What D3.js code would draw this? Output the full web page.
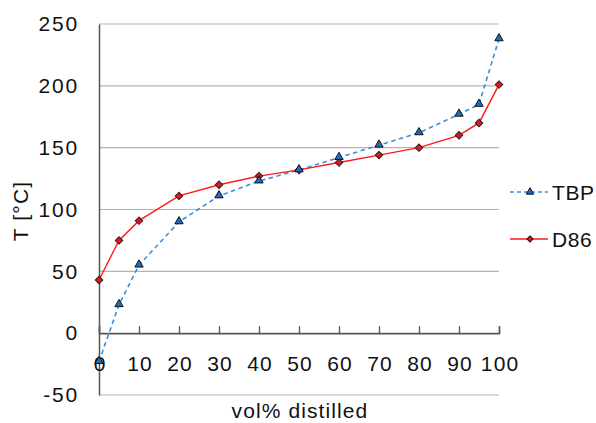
<!DOCTYPE html>
<html>
<head>
<meta charset="utf-8">
<script src="https://cdn.jsdelivr.net/npm/d3@7"></script>
<style>
  html, body { margin: 0; padding: 0; background: #fff; }
  text { font-family: "Liberation Sans", Arial, Helvetica, sans-serif; }
</style>
</head>
<body>
<svg id="chart" width="596" height="423"></svg>
<script>
// Distillation curves: temperature vs. volume percent distilled
const volPct = [0, 5, 10, 20, 30, 40, 50, 60, 70, 80, 90, 95, 100];
const tbp    = [-23, 23, 55, 90, 111, 123, 132, 142, 152, 162, 177, 185, 238];
const d86    = [43, 75, 91, 111, 120, 127, 132, 138, 144, 150, 160, 170, 201];
const yTicks = [-50, 0, 50, 100, 150, 200, 250];
const xTicks = [0, 10, 20, 30, 40, 50, 60, 70, 80, 90, 100];

const svg = d3.select("#chart");
const plotL = 99, plotR = 499, plotT = 24, plotB = 395;
const fontSize = 21;
const ink = "#111";

const x = d3.scaleLinear().domain([0, 100]).range([plotL, plotR]);
const y = d3.scaleLinear().domain([-50, 250]).range([plotB, plotT]);

// horizontal gridlines
svg.append("g").selectAll("line").data(yTicks).join("line")
  .attr("x1", plotL).attr("x2", plotR)
  .attr("y1", d => y(d)).attr("y2", d => y(d))
  .attr("stroke", "#b5b5b5").attr("stroke-width", 1.2);

// y axis (plain hyphen for negative numbers)
const yAxis = svg.append("g").attr("transform", `translate(${plotL},0)`)
  .call(d3.axisLeft(y).tickValues(yTicks).tickSize(0).tickPadding(20)
    .tickFormat(d => String(d)));
yAxis.select(".domain").attr("stroke", "#555").attr("stroke-width", 1.5);
yAxis.selectAll("text").attr("font-size", fontSize).attr("fill", ink)
  .attr("letter-spacing", 1.8)
  .attr("font-family", "'Liberation Sans', Arial, sans-serif");

// x axis at T = 0, ticks pointing up
const xAxis = svg.append("g").attr("transform", `translate(0,${y(0)})`)
  .call(d3.axisTop(x).tickValues(xTicks).tickSize(7).tickFormat(d => String(d)));
xAxis.select(".domain").attr("stroke", "#555").attr("stroke-width", 1.5);
xAxis.selectAll(".tick line").attr("stroke", "#555").attr("stroke-width", 1.3);
xAxis.selectAll("text").attr("font-size", fontSize).attr("fill", ink)
  .attr("y", 37.5).attr("x", 0.6).attr("letter-spacing", 1.2)
  .attr("font-family", "'Liberation Sans', Arial, sans-serif");

// axis titles
svg.append("text")
  .attr("transform", `translate(28,211) rotate(-90)`)
  .attr("text-anchor", "middle").attr("font-size", fontSize).attr("fill", ink)
  .attr("letter-spacing", 1.2)
  .text("T [°C]");
svg.append("text")
  .attr("x", 300).attr("y", 417.5)
  .attr("text-anchor", "middle").attr("font-size", fontSize).attr("fill", ink)
  .attr("letter-spacing", 1.1)
  .text("vol% distilled");

const line = d3.line().x(d => x(d[0])).y(d => y(d[1]));
const tbpPts = volPct.map((v, i) => [v, tbp[i]]);
const d86Pts = volPct.map((v, i) => [v, d86[i]]);

// TBP series
svg.append("path").datum(tbpPts).attr("d", line)
  .attr("fill", "none").attr("stroke", "#3b8ede").attr("stroke-width", 1.6)
  .attr("stroke-dasharray", "4.5,3.5");

// D86 series
svg.append("path").datum(d86Pts).attr("d", line)
  .attr("fill", "none").attr("stroke", "#ff1a1a").attr("stroke-width", 1.4);

const tri = d3.symbol().type(d3.symbolTriangle).size(30);
const sq = d3.symbol().type(d3.symbolSquare).size(28);

svg.append("g").selectAll("path").data(d86Pts).join("path")
  .attr("d", sq).attr("transform", d => `translate(${x(d[0])},${y(d[1])}) rotate(45)`)
  .attr("fill", "#e8141b").attr("stroke", "#222").attr("stroke-width", 1);

svg.append("g").selectAll("path").data(tbpPts).join("path")
  .attr("d", tri).attr("transform", d => `translate(${x(d[0])},${y(d[1]) - 0.5})`)
  .attr("fill", "#1a6fc0").attr("stroke", "#111").attr("stroke-width", 1);

// legend
const legend = [
  { name: "TBP", color: "#3b8ede", dash: "4,3", type: d3.symbolTriangle, size: 24, rot: 0, fill: "#1a6fc0", y: 192 },
  { name: "D86", color: "#ff1a1a", dash: null, type: d3.symbolSquare, size: 18, rot: 45, fill: "#e8141b", y: 239 }
];
const lg = svg.append("g").selectAll("g").data(legend).join("g")
  .attr("transform", d => `translate(0,${d.y})`);
lg.append("line").attr("x1", 510).attr("x2", 548).attr("y1", 0).attr("y2", 0)
  .attr("stroke", d => d.color).attr("stroke-width", 1.4)
  .attr("stroke-dasharray", d => d.dash);
lg.append("path").attr("d", d => d3.symbol().type(d.type).size(d.size)())
  .attr("transform", d => `translate(530,0) rotate(${d.rot})`)
  .attr("fill", d => d.fill).attr("stroke", "#111").attr("stroke-width", 1);
lg.append("text").attr("x", 552).attr("y", 7.5).attr("font-size", fontSize).attr("fill", ink)
  .attr("letter-spacing", 0.6)
  .text(d => d.name);
</script>
</body>
</html>
